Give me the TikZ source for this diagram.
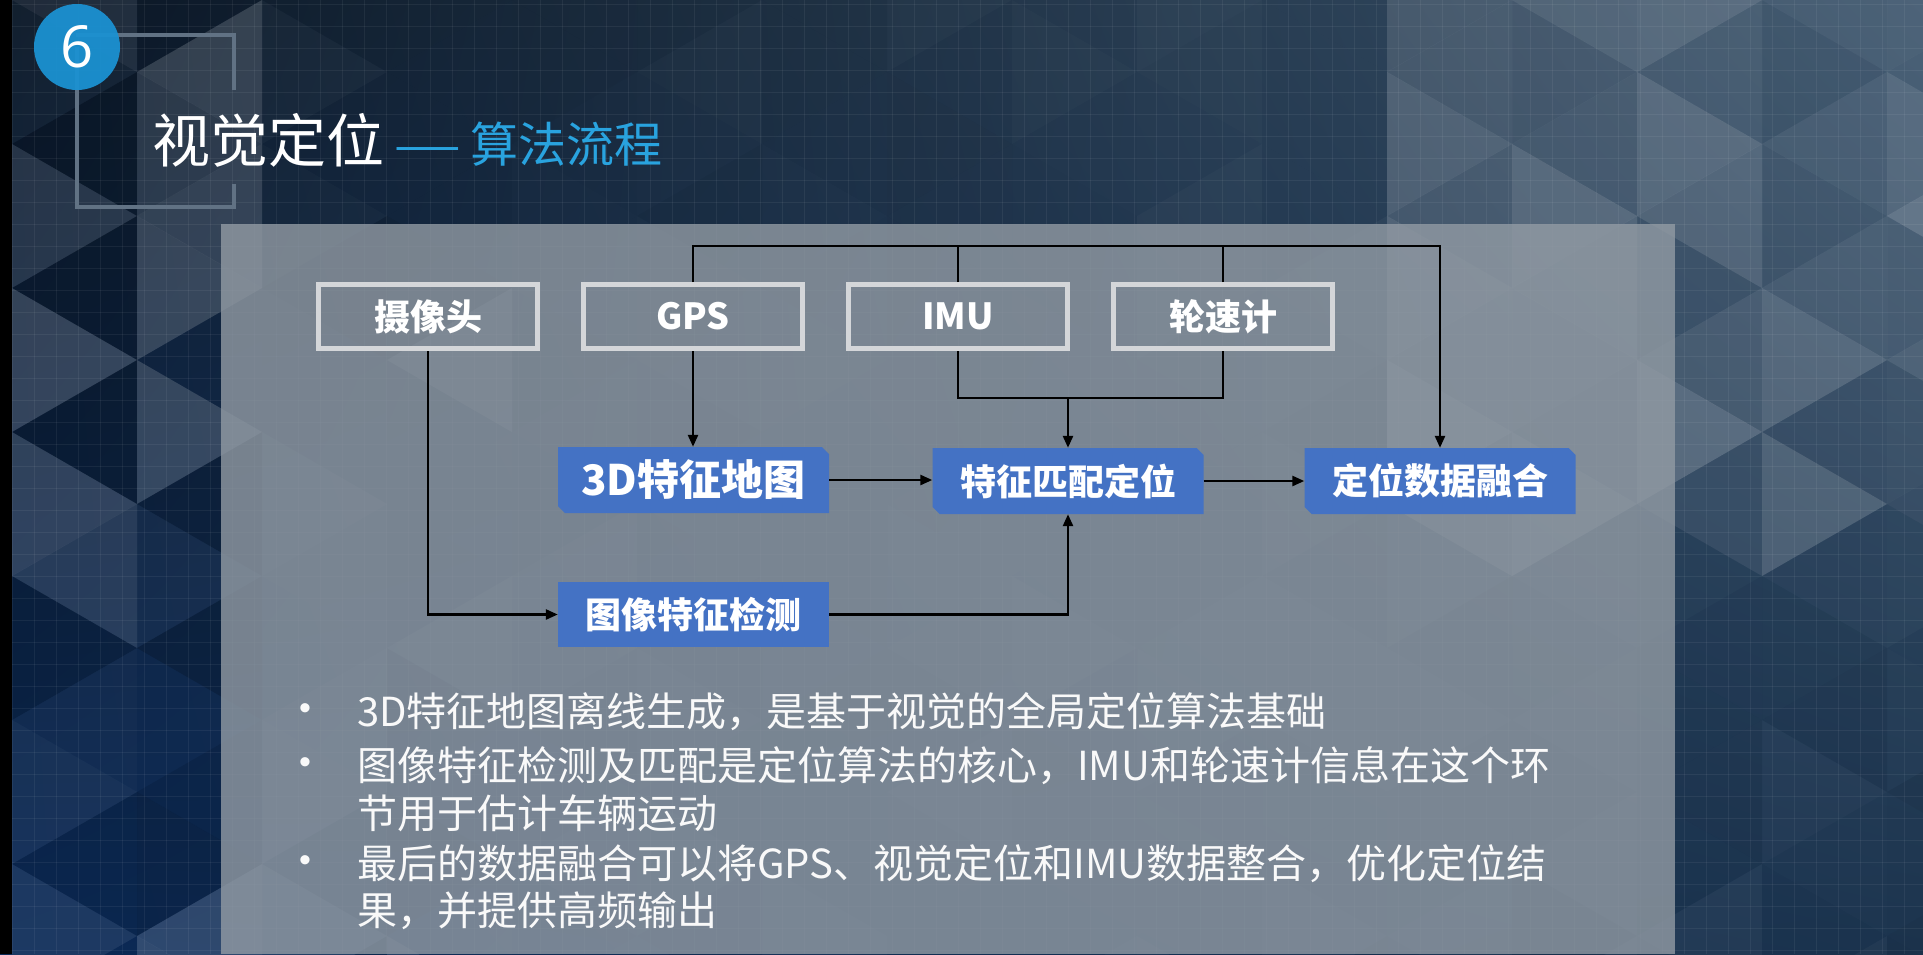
\documentclass[tikz,border=0pt]{standalone}
\usepackage{fontspec}
\setmainfont{Noto Sans CJK SC}
\newfontfamily\numfont{Open Sans}
\newfontfamily\dotfont{Liberation Sans}
\usetikzlibrary{arrows.meta,calc,shadings}
\definecolor{boxblue}{HTML}{4472C4}
\definecolor{boxgray}{HTML}{D4D6D9}
\definecolor{titleblue}{HTML}{29A3DF}
\definecolor{circblue}{HTML}{1B91D1}
\definecolor{framegray}{HTML}{617284}
\definecolor{panelgray}{HTML}{929BA4}
\definecolor{bgA}{HTML}{0B1828}
\definecolor{bgB}{HTML}{0B2A58}
\definecolor{bgC}{HTML}{3A536B}
\definecolor{bgD}{HTML}{1C344E}
\newcommand{\facetval}[2]{%
  \pgfmathsetmacro{\rr}{rnd}%
  \pgfmathsetmacro{\fv}{(#1<250) ? 0.18*(2*\rr-1) :
     (((#1<500) && (#2>224)) ? 0.11*(2*\rr-1) :
     (((#1>1350) && (#2<520)) ? (0.05+0.19*\rr) :
     ((#1>1350) ? 0.04*(2*\rr-1) : 0.03*(2*\rr-1))))}}
\newcommand{\facet}[2]{%
  \pgfmathsetmacro{\facetop}{abs(#1)}%
  \ifdim #1pt>0pt \fill[white,opacity=\facetop] #2;\else\fill[black,opacity=\facetop] #2;\fi}
\newcommand{\chamfill}[3]{% cx, cy, width
  \fill[boxblue] (#1-#3/2,#2-33) -- (#1+#3/2-7,#2-33) -- (#1+#3/2,#2-26) -- (#1+#3/2,#2+33)
     -- (#1-#3/2+7,#2+33) -- (#1-#3/2,#2+26) -- cycle;}
\begin{document}
\begin{tikzpicture}[x=1pt,y=-1pt,
  graybox/.style={draw=boxgray, line width=5pt, minimum width=219pt, minimum height=64pt,
    inner sep=0pt, text=white, font=\fontsize{36}{40}\selectfont\bfseries},
  bluelabel/.style={inner sep=0pt, text=white, minimum width=271pt, minimum height=66pt,
    font=\fontsize{36}{40}\selectfont\bfseries},
  conn/.style={line width=2.5pt, black},
  arr/.style={conn, -{Triangle[length=12pt,width=10pt]}},
  bodytext/.style={anchor=west, inner sep=0pt, text=white!95!gray, font=\fontsize{40}{44}\selectfont},
  bulletdot/.style={inner sep=0pt, text=white!95!gray, font=\dotfont\fontsize{34}{36}\selectfont},
  frame/.style={framegray, line width=4.5pt},
  gridline/.style={white, opacity=0.06, line width=0.8pt}]
\useasboundingbox (0,0) rectangle (1923,954);
\clip (0,0) rectangle (1923,954);
% background
\shade[upper left=bgA, lower left=bgB, upper right=bgC, lower right=bgD] (0,0) rectangle (1923,954);
\pgfmathsetseed{12345}
\foreach \i in {0,...,15}{
  \foreach \j in {-1,...,7}{
    \pgfmathsetmacro{\xa}{12+125*\i}
    \pgfmathsetmacro{\xb}{137+125*\i}
    \pgfmathsetmacro{\ya}{144*\j+72*mod(\i,2)}
    \pgfmathsetmacro{\cxa}{(2*\xa+\xb)/3}
    \pgfmathsetmacro{\cya}{\ya+72}
    \facetval{\cxa}{\cya}
    \facet{\fv}{(\xa,\ya) -- (\xa,\ya+144) -- (\xb,\ya+72) -- cycle}
    \pgfmathsetmacro{\cxb}{(\xa+2*\xb)/3}
    \pgfmathsetmacro{\cyb}{\ya+144}
    \facetval{\cxb}{\cyb}
    \facet{\fv}{(\xb,\ya+72) -- (\xb,\ya+216) -- (\xa,\ya+144) -- cycle}
  }
}
\foreach \gx in {12,34,...,1923} \draw[gridline] (\gx,0) -- (\gx,954);
\foreach \gy in {4,26,...,954} \draw[gridline] (0,\gy) -- (1923,\gy);
\fill[black] (0,0) rectangle (12,954);
% header
\draw[frame] (76,35) -- (234,35) -- (234,90);
\draw[frame] (77,47) -- (77,207) -- (234,207) -- (234,184);
\node[circle, fill=circblue, fill opacity=0.95, text opacity=1, minimum size=86pt, inner sep=0pt,
  text=white, font=\numfont\fontsize{58}{60}\selectfont] (num) at (77,47) {6};
\node[anchor=west, inner sep=0pt, text=white, font=\fontsize{58}{62}\selectfont] (title) at (152,140)
  {视觉定位\hspace{9pt}{\color{titleblue}\fontsize{48}{52}\selectfont\scalebox{1.6}[1]{—}\hspace{9pt}算法流程}};
% panel
\fill[panelgray, opacity=0.8] (221,224) rectangle (1675,954);
% source boxes
\node[graybox] (cam) at (428,316.5) {摄像头};
\node[graybox] (gps) at (693,316.5) {GPS};
\node[graybox] (imu) at (958,316.5) {IMU};
\node[graybox] (wheel) at (1223,316.5) {轮速计};
% processing boxes
\chamfill{693.5}{480}{271}
\node[bluelabel, font=\fontsize{42}{46}\selectfont\bfseries] (map) at (693.5,480) {3D特征地图};
\chamfill{1068}{481}{271}
\node[bluelabel] (match) at (1068,481) {特征匹配定位};
\chamfill{1440}{481}{271}
\node[bluelabel] (fuse) at (1440,481) {定位数据融合};
\node[bluelabel, fill=boxblue, minimum height=65pt] (detect) at (693.5,614.5) {图像特征检测};
% connectors
\coordinate (topy) at (0,246);
\coordinate (midy) at (0,398);
\draw[arr] (gps.north) -- (gps.north |- topy) -| (fuse.north);
\draw[conn] (imu.north) -- (imu.north |- topy);
\draw[conn] (wheel.north) -- (wheel.north |- topy);
\draw[arr] (gps.south) -- (gps.south |- map.north);
\draw[conn] (imu.south) |- (wheel.south |- midy) -- (wheel.south);
\draw[arr] (match.north |- midy) -- (match.north);
\draw[arr] (cam.south) |- (detect.west);
\draw[arr] (detect.east) -| (match.south);
\draw[arr] (map.east) -- (map.east -| match.west);
\draw[arr] (match.east) -- (match.east -| fuse.west);
% bullet text
\node[bulletdot] (d1) at (305,712) {•};
\node[bodytext] (t1) at (357,712) {3D特征地图离线生成，是基于视觉的全局定位算法基础};
\node[bulletdot] (d2) at (305,766) {•};
\node[bodytext] (t2) at (357,766) {图像特征检测及匹配是定位算法的核心，IMU和轮速计信息在这个环};
\node[bodytext] (t3) at (357,813) {节用于估计车辆运动};
\node[bulletdot] (d3) at (305,864) {•};
\node[bodytext] (t4) at (357,864) {最后的数据融合可以将GPS、视觉定位和IMU数据整合，优化定位结};
\node[bodytext] (t5) at (357,911) {果，并提供高频输出};
\end{tikzpicture}
\end{document}
